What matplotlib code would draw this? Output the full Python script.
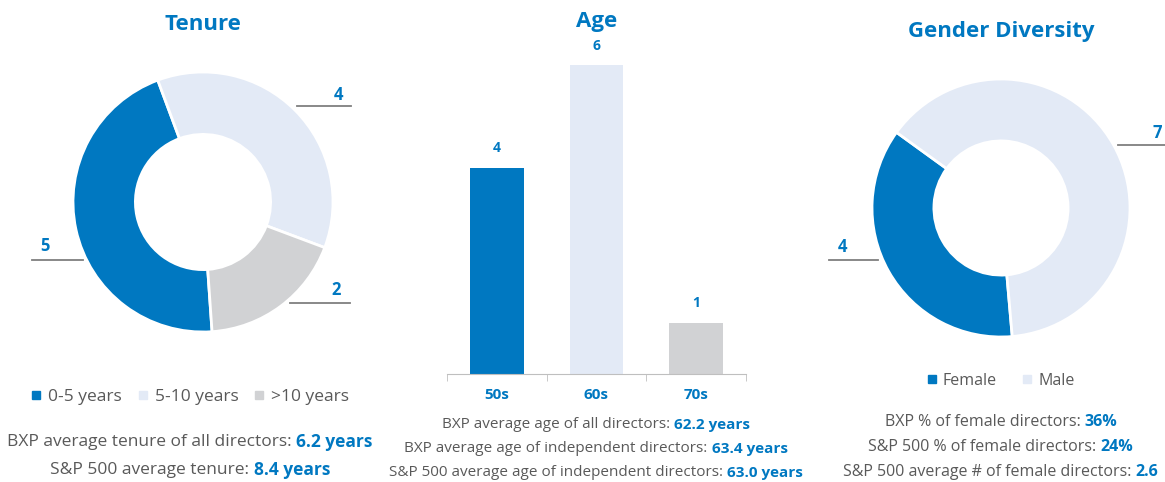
import matplotlib
matplotlib.use("Agg")
import matplotlib.pyplot as plt
from matplotlib.lines import Line2D
import numpy as np

# chart data
tenure_labels = ["0-5 years", "5-10 years", ">10 years"]
tenure_counts = [5, 4, 2]
age_labels = ["50s", "60s", "70s"]
age_counts = [4, 6, 1]
gender_labels = ["Female", "Male"]
gender_counts = [4, 7]

tenure_notes = [[("BXP average tenure of all directors:", False), ("6.2 years", True)],
                [("S&P 500 average tenure:", False), ("8.4 years", True)]]
age_notes = [[("BXP average age of all directors:", False), ("62.2 years", True)],
             [("BXP average age of independent directors:", False), ("63.4 years", True)],
             [("S&P 500 average age of independent directors:", False), ("63.0 years", True)]]
gender_notes = [[("BXP % of female directors:", False), ("36%", True)],
                [("S&P 500 % of female directors:", False), ("24%", True)],
                [("S&P 500 average # of female directors:", False), ("2.6", True)]]

BLUE = "#0078C1"
LIGHT = "#E3EAF6"
GREY_BAR = "#D1D2D4"
TEXT = "#595959"
LEADER = "#7F7F7F"

plt.rcParams["font.family"] = ["Open Sans", "DejaVu Sans"]

W, H = 1165, 482
fig = plt.figure(figsize=(W / 100, H / 100), dpi=100)


def px_axes(cx, cy, w, h):
    # axes from pixel centre (top-left origin)
    return fig.add_axes([(cx - w / 2) / W, 1 - (cy + h / 2) / H, w / W, h / H])


def donut(cx, cy, r, counts, colors, start, labels_pos):
    ax = px_axes(cx, cy, 2 * r, 2 * r)
    ax.pie(counts, colors=colors, startangle=start, counterclock=False, radius=1,
           wedgeprops=dict(width=0.48, edgecolor="white", linewidth=2))
    ax.set_xlim(-1, 1)
    ax.set_ylim(-1, 1)
    ax.set_aspect("equal")
    ax.axis("off")
    for val, (tx, ty, ly, lx0, lx1) in zip(counts, labels_pos):
        ax.text(tx, ty, str(val), ha="center", va="center", fontsize=12,
                fontweight="bold", color=BLUE, clip_on=False)
        ax.add_line(Line2D([lx0, lx1], [ly, ly], color=LEADER, lw=1.3, clip_on=False))
    return ax


def rich_line(x, y, parts, size):
    r = fig.canvas.get_renderer()
    texts = []
    for s, bold in parts:
        t = fig.text(0, 0, s, fontsize=size, fontweight="bold" if bold else "normal",
                     color=BLUE if bold else TEXT, va="center", ha="left")
        texts.append(t)
    probe1 = fig.text(0, 0, "x x", fontsize=size)
    probe2 = fig.text(0, 0, "xx", fontsize=size)
    gap = probe1.get_window_extent(r).width - probe2.get_window_extent(r).width
    probe1.remove()
    probe2.remove()
    widths = [t.get_window_extent(r).width for t in texts]
    total = sum(widths) + gap * (len(texts) - 1)
    x0 = x - total / 2
    for t, w in zip(texts, widths):
        t.set_position((x0 / W, 1 - y / H))
        x0 += w + gap


def title(x, y, s):
    fig.text(x / W, 1 - y / H, s, ha="center", va="center", fontsize=16,
             fontweight="bold", color=BLUE)


# Tenure donut
title(203, 25, "Tenure")
donut(203, 202, 130, tenure_counts, [BLUE, LIGHT, GREY_BAR], -86,
      [(-1.215, -0.34, -0.446, -1.315, -0.923),
       (1.04, 0.82, 0.738, 0.723, 1.138),
       (1.025, -0.68, -0.777, 0.669, 1.131)])
handles = [Line2D([], [], ls="", marker="s", ms=6, color=c) for c in [BLUE, LIGHT, GREY_BAR]]
fig.legend(handles, tenure_labels, loc="center", bbox_to_anchor=(190 / W, 1 - 397 / H),
           ncol=3, frameon=False, fontsize=12.5, labelcolor=TEXT, handlelength=0.6,
           handletextpad=0.4, columnspacing=0.9)
for i, parts in enumerate(tenure_notes):
    rich_line(190, 442 + 28 * i, parts, 12.5)

# Age bars
title(597, 22, "Age")
ax = fig.add_axes([447 / W, (H - 374) / H, 299 / W, 6.5 * 51.5 / H])
x = np.arange(len(age_labels))
bars = ax.bar(x, age_counts, width=0.54, color=[BLUE, LIGHT, GREY_BAR])
ax.bar_label(bars, padding=9, fontsize=10, fontweight="bold", color=BLUE)
ax.set_xlim(-0.5, 2.5)
ax.set_ylim(0, 6.5)
ax.set_xticks(x)
ax.set_xticklabels(age_labels, fontsize=11, fontweight="bold", color=BLUE)
ax.set_xticks(np.arange(-0.5, 3, 1), minor=True)
ax.tick_params(axis="x", which="major", length=0, pad=10)
ax.tick_params(axis="x", which="minor", length=5, color="#BFBFBF", direction="out")
ax.set_yticks([])
for side in ["top", "left", "right"]:
    ax.spines[side].set_visible(False)
ax.spines["bottom"].set_color("#BFBFBF")
for i, parts in enumerate(age_notes):
    rich_line(596, 425 + 24 * i, parts, 11)

# Gender donut
title(1001, 31, "Gender Diversity")
donut(1001, 208, 129, gender_counts, [BLUE, LIGHT], -85,
      [(-1.225, -0.30, -0.403, -1.333, -0.953),
       (1.209, 0.58, 0.488, 0.907, 1.271)])
handles = [Line2D([], [], ls="", marker="s", ms=6, color=c) for c in [BLUE, LIGHT]]
fig.legend(handles, gender_labels, loc="center", bbox_to_anchor=(1001 / W, 1 - 381 / H),
           ncol=2, frameon=False, fontsize=11.5, labelcolor=TEXT, handlelength=0.6,
           handletextpad=0.4, columnspacing=1.6)
for i, parts in enumerate(gender_notes):
    rich_line(1001, 422 + 25 * i, parts, 11.5)

fig.savefig("out.png", dpi=100)
